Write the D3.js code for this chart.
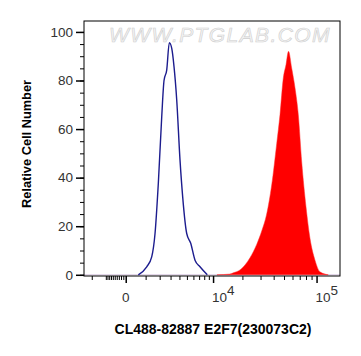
<!DOCTYPE html>
<html>
<head>
<meta charset="utf-8">
<script src="https://cdn.jsdelivr.net/npm/d3@7"></script>
<style>
  body { margin: 0; background: #fff; }
  svg { display: block; font-family: "Liberation Sans", Arial, sans-serif; }
</style>
</head>
<body>
<div id="chart"></div>
<script>
// control histogram (blue outline), fluorescence value vs relative count
var controlX = [584, 1068, 1397, 1636, 1890, 2170, 2372, 2620, 2875, 3118, 3368, 3675, 4071, 4418, 4970, 5570, 6270, 7164, 8652];
var controlY = [0, 3.3, 7.4, 17, 37.7, 65, 80, 84.3, 95.6, 93.3, 85.7, 72, 47.3, 32, 17, 13, 6, 3.3, 0];

// stained sample histogram (red fill)
var sampleX = [11000, 15000, 16230, 18930, 23730, 27560, 30790, 34340, 38320, 42710, 45880, 49250, 52200, 55080, 59000, 63270, 67870, 73000, 79970, 87020, 96750, 107500, 128000];
var sampleY = [0, 0.3, 0.8, 2, 7, 12.5, 18, 25, 37, 54, 66, 81, 86.5, 92, 85, 77, 66, 46.5, 28, 15, 6, 1.2, 0];

var yTicks = [0, 20, 40, 60, 80, 100];
var yMinorTicks = d3.range(0, 101, 5);
var xMajorTicks = [0, 10000, 100000];
var xMajorLabels = ["0", "4", "5"];
var xMinorTicks = [-2000, -1000, -900, -800, -700, -600, -500, -400, -300, -200, -100,
                   1000, 2000, 3000, 4000, 5000, 6000, 7000, 8000, 9000,
                   20000, 30000, 40000, 50000, 60000, 70000, 80000, 90000];

var xTitle = "CL488-82887 E2F7(230073C2)";
var yTitle = "Relative Cell Number";

var width = 361, height = 356;
var plot = {left: 84, right: 340, top: 21, bottom: 276};

var svg = d3.select("#chart").append("svg")
    .attr("width", width)
    .attr("height", height);

var x = d3.scaleSymlog()
    .constant(1960)
    .domain([-2690, 163700])
    .range([plot.left, plot.right]);

var y = d3.scaleLinear()
    .domain([-0.5, 104.5])
    .range([plot.bottom, plot.top]);

// watermark
svg.append("text")
    .attr("x", 220)
    .attr("y", 42)
    .attr("text-anchor", "middle")
    .style("font-size", "21px")
    .style("font-style", "italic")
    .style("letter-spacing", "1.4px")
    .style("fill", "#f4f4f4")
    .style("stroke", "#cfcfcf")
    .style("stroke-width", 0.6)
    .text("WWW.PTGLAB.COM");

// faint zero line
svg.append("line")
    .attr("x1", plot.left)
    .attr("x2", plot.right)
    .attr("y1", y(0))
    .attr("y2", y(0))
    .style("stroke", "#d8c8e0")
    .style("stroke-width", 1);

// red filled histogram
var sample = sampleX.map(function(v, i) { return {x: v, y: sampleY[i]}; });
var area = d3.area()
    .x(function(d) { return x(d.x); })
    .y0(y(0))
    .y1(function(d) { return y(d.y); })
    .curve(d3.curveMonotoneX);

svg.append("path")
    .datum(sample)
    .attr("d", area)
    .style("fill", "#ff0000")
    .style("stroke", "#ff3030")
    .style("stroke-width", 0.5);

// blue outline histogram
var control = controlX.map(function(v, i) { return {x: v, y: controlY[i]}; });
var line = d3.line()
    .x(function(d) { return x(d.x); })
    .y(function(d) { return y(d.y); })
    .curve(d3.curveMonotoneX);

svg.append("path")
    .datum(control)
    .attr("d", line)
    .style("fill", "none")
    .style("stroke", "#1c1c8e")
    .style("stroke-width", 1.4);

// frame
svg.append("rect")
    .attr("x", plot.left)
    .attr("y", plot.top)
    .attr("width", plot.right - plot.left)
    .attr("height", plot.bottom - plot.top)
    .style("fill", "none")
    .style("stroke", "#000")
    .style("stroke-width", 1);

// y axis
var yAxis = svg.append("g")
    .attr("transform", "translate(" + plot.left + ",0)")
    .call(d3.axisLeft(y).tickValues(yTicks).tickSize(8).tickPadding(3));
yAxis.select(".domain").remove();
yAxis.selectAll("text").style("font-size", "13.5px").style("fill", "#333");
yAxis.selectAll("line").style("stroke-width", 1.5);

svg.append("g")
    .attr("transform", "translate(" + plot.left + ",0)")
    .call(d3.axisLeft(y).tickValues(yMinorTicks).tickSize(4).tickFormat(""))
    .select(".domain").remove();

// x axis
var xAxis = svg.append("g")
    .attr("transform", "translate(0," + plot.bottom + ")")
    .call(d3.axisBottom(x).tickValues(xMajorTicks).tickSize(7).tickFormat(""));
xAxis.select(".domain").remove();
xAxis.selectAll("line").style("stroke-width", 1.5);

svg.append("g")
    .attr("transform", "translate(0," + plot.bottom + ")")
    .call(d3.axisBottom(x).tickValues(xMinorTicks).tickSize(4).tickFormat(""))
    .select(".domain").remove();

// x tick labels: 0, 10^4, 10^5
xMajorTicks.forEach(function(v, i) {
    var t = svg.append("text")
        .attr("y", 302)
        .style("font-size", "13.5px")
        .style("fill", "#333");
    if (v === 0) {
        t.attr("x", x(v)).attr("text-anchor", "middle").text(xMajorLabels[i]);
    } else {
        t.attr("x", x(v) - 1).attr("text-anchor", "start").text("10");
        t.append("tspan")
            .attr("dy", -7)
            .text(xMajorLabels[i]);
    }
});

// axis titles
svg.append("text")
    .attr("x", 213)
    .attr("y", 334)
    .attr("text-anchor", "middle")
    .style("font-size", "14px")
    .style("font-weight", "bold")
    .text(xTitle);

svg.append("text")
    .attr("transform", "translate(31,144) rotate(-90)")
    .attr("text-anchor", "middle")
    .style("font-size", "12.8px")
    .style("font-weight", "bold")
    .text(yTitle);
</script>
</body>
</html>
